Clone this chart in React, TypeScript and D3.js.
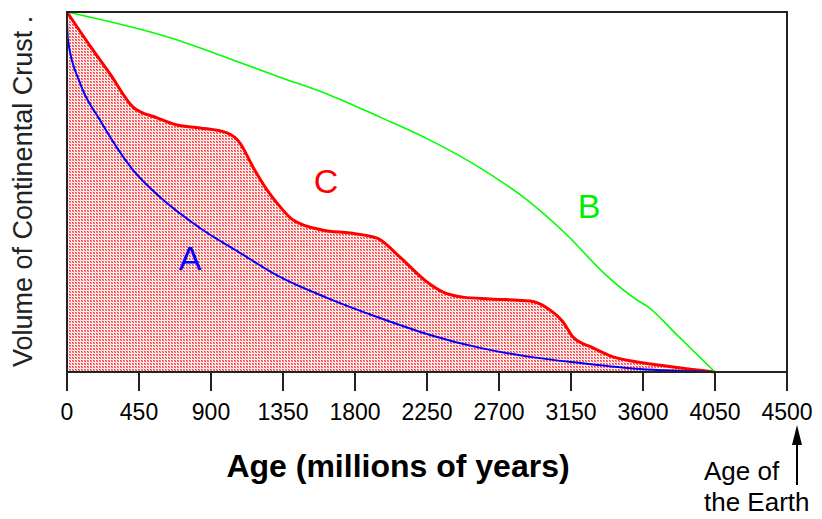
import React from "react";
import * as d3 from "d3";

const ageTicks = [0, 450, 900, 1350, 1800, 2250, 2700, 3150, 3600, 4050, 4500];

// Curve B (green): age (My), relative volume
const curveBAge = [0, 625, 1037, 1331, 1644, 1956, 2269, 2581, 2875, 3112, 3381, 3562, 3625, 3812, 4050];
const curveBVol = [1.0, 0.931, 0.867, 0.819, 0.769, 0.708, 0.644, 0.567, 0.478, 0.386, 0.264, 0.2, 0.183, 0.103, 0];

// Curve C (red, shaded)
const curveCAge = [0, 144, 269, 413, 563, 688, 831, 1000, 1081, 1163, 1250, 1313, 1413, 1600, 1769, 1938, 2081, 2250, 2350, 2475, 2644, 2894, 3000, 3100, 3163, 3288, 3413, 3563, 3788, 4050];
const curveCVol = [1.0, 0.906, 0.828, 0.736, 0.706, 0.686, 0.678, 0.664, 0.636, 0.569, 0.506, 0.469, 0.422, 0.394, 0.386, 0.372, 0.319, 0.25, 0.222, 0.208, 0.203, 0.197, 0.178, 0.139, 0.097, 0.067, 0.042, 0.028, 0.014, 0];

// Curve A (blue)
const curveAAge = [0, 6, 81, 206, 413, 581, 831, 1081, 1331, 1625, 1956, 2269, 2581, 2894, 3206, 3581, 4038];
const curveAVol = [0.98, 0.922, 0.803, 0.7, 0.561, 0.486, 0.4, 0.331, 0.264, 0.206, 0.15, 0.103, 0.067, 0.042, 0.025, 0.008, 0];

const W = 822;
const H = 519;
const left = 67, right = 787, top = 12, bottom = 372;

export default function App() {
  const x = d3.scaleLinear().domain([0, 4500]).range([left, right]);
  const y = d3.scaleLinear().domain([0, 1]).range([bottom, top]);

  const zip = (a: number[], v: number[]) => a.map((d, i) => [d, v[i]] as [number, number]);
  const line = d3.line<[number, number]>().x(d => x(d[0])).y(d => y(d[1])).curve(d3.curveMonotoneX);
  const area = d3.area<[number, number]>().x(d => x(d[0])).y0(y(0)).y1(d => y(d[1])).curve(d3.curveMonotoneX);

  const B = zip(curveBAge, curveBVol);
  const C = zip(curveCAge, curveCVol);
  const A = zip(curveAAge, curveAVol);

  const font = "'Liberation Sans', Arial, sans-serif";

  return (
    <svg width={W} height={H} style={{ position: "absolute", left: 0, top: 0, background: "#fff" }} fontFamily={font}>
      <defs>
        <pattern id="dots" width={3} height={3} patternUnits="userSpaceOnUse">
          <rect width={3} height={3} fill="#ffffff" />
          <rect x={0} y={0} width={1} height={1} fill="#ff3030" />
          <rect x={1} y={0} width={1} height={1} fill="#ff9090" />
          <rect x={0} y={1} width={1} height={1} fill="#ff9090" />
          <rect x={1} y={1} width={1} height={1} fill="#ff5050" />
          <rect x={2} y={2} width={1} height={1} fill="#ffd0d0" />
        </pattern>
      </defs>
      <path d={area(C) || ""} fill="url(#dots)" />
      <path d={line(C) || ""} fill="none" stroke="#ff0000" strokeWidth={3} />
      <path d={line(A) || ""} fill="none" stroke="#0000ff" strokeWidth={2} />
      <path d={line(B) || ""} fill="none" stroke="#00ff00" strokeWidth={1.6} />

      <rect x={left} y={top} width={right - left} height={bottom - top} fill="none" stroke="#222" strokeWidth={2} />

      {ageTicks.map(t => (
        <g key={t}>
          <line x1={x(t)} x2={x(t)} y1={bottom} y2={bottom + 19} stroke="#222" strokeWidth={2} />
          <text x={x(t)} y={420} textAnchor="middle" fontSize={23} fill="#000">{t}</text>
        </g>
      ))}

      <text x={398} y={477} textAnchor="middle" fontSize={32} fontWeight="bold" fill="#000">Age (millions of years)</text>
      <text transform={`translate(32,367) rotate(-90)`} fontSize={27} fill="#222">Volume of Continental Crust  .</text>

      <text x={326} y={193} textAnchor="middle" fontSize={34} fill="#ff0000">C</text>
      <text x={190} y={270} textAnchor="middle" fontSize={34} fill="#0000ff">A</text>
      <text x={589} y={218} textAnchor="middle" fontSize={34} fill="#00ee00">B</text>

      <text x={704} y={480} fontSize={26} fill="#000">Age of</text>
      <text x={704} y={511} fontSize={26} fill="#000">the Earth</text>
      <line x1={797} x2={797} y1={440} y2={485} stroke="#000" strokeWidth={2} />
      <path d="M797,425 L792,445 L802,445 Z" fill="#000" />
    </svg>
  );
}
